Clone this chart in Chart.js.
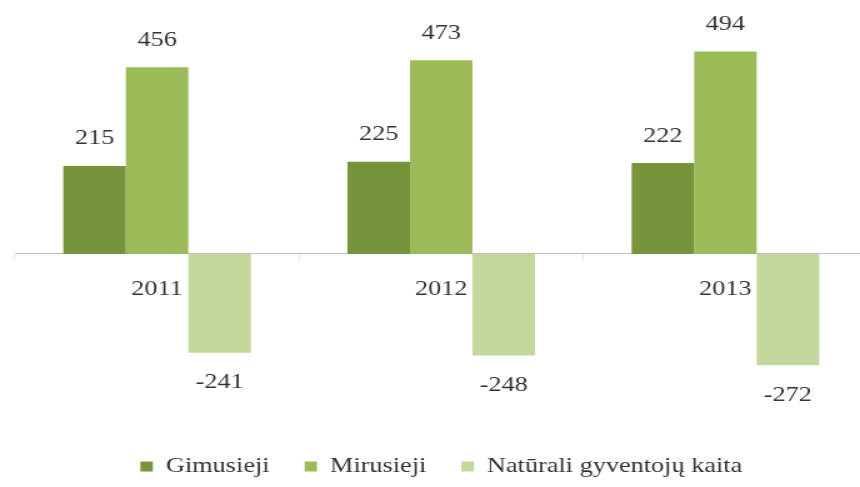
<!DOCTYPE html>
<html>
<head>
<meta charset="utf-8">
<script src="https://cdn.jsdelivr.net/npm/chart.js@4/dist/chart.umd.min.js"></script>
<style>
  html, body { margin: 0; padding: 0; background: #ffffff; overflow: hidden; width: 860px; height: 487px; }
  #wrap { position: absolute; left: 0; top: 0; width: 714px; height: 487px; transform: scaleX(1.25); transform-origin: 0 0; }
</style>
</head>
<body>
<div id="wrap"><canvas id="c"></canvas></div>
<script>
const categories = ['2011', '2012', '2013'];
const gimusieji = [215, 225, 222];
const mirusieji = [456, 473, 494];
const naturaliKaita = [-241, -248, -272];
const seriesNames = ['Gimusieji', 'Mirusieji', 'Natūrali gyventojų kaita'];
const seriesColors = ['#77933C', '#9BBB59', '#C3D69B'];

const FONT = "'Liberation Serif', 'Times New Roman', serif";
const TEXT = '#333333';

const valueLabels = {
  id: 'valueLabels',
  afterDatasetsDraw(chart) {
    const ctx = chart.ctx;
    ctx.save();
    ctx.font = '21px ' + FONT;
    ctx.fillStyle = TEXT;
    ctx.textAlign = 'center';
    ctx.textBaseline = 'middle';
    chart.data.datasets.forEach((ds, di) => {
      const meta = chart.getDatasetMeta(di);
      meta.data.forEach((bar, i) => {
        const v = ds.data[i];
        const y = v >= 0 ? bar.y - 27 : bar.y + 30;
        ctx.fillText(String(v), bar.x, y);
      });
    });
    ctx.restore();
  }
};

new Chart(document.getElementById('c'), {
  type: 'bar',
  data: {
    labels: categories,
    datasets: [
      { label: seriesNames[0], data: gimusieji, backgroundColor: seriesColors[0] },
      { label: seriesNames[1], data: mirusieji, backgroundColor: seriesColors[1] },
      { label: seriesNames[2], data: naturaliKaita, backgroundColor: seriesColors[2] }
    ]
  },
  options: {
    responsive: true,
    maintainAspectRatio: false,
    animation: false,
    layout: { padding: { left: 12, right: 20, top: 0, bottom: 0 } },
    datasets: { bar: { categoryPercentage: 0.66, barPercentage: 1.0 } },
    scales: {
      x: {
        position: { y: 0 },
        grid: { display: true, drawOnChartArea: false, drawTicks: true, tickLength: 6, offset: true, color: '#e3e3e3' },
        border: { display: true, color: '#bfbfbf', width: 1 },
        ticks: { font: { family: FONT, size: 21 }, color: TEXT, padding: 17 }
      },
      y: {
        display: false,
        min: -425,
        max: 620
      }
    },
    plugins: {
      legend: {
        position: 'bottom',
        labels: {
          boxWidth: 10,
          boxHeight: 10,
          padding: 28,
          color: TEXT,
          font: { family: FONT, size: 21 }
        }
      },
      tooltip: { enabled: false }
    }
  },
  plugins: [valueLabels]
});
</script>
</body>
</html>
